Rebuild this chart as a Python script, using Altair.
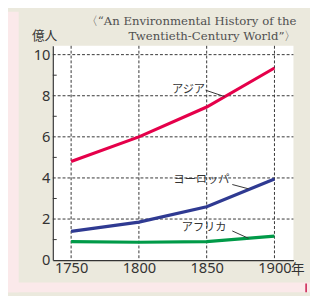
import altair as alt
import pandas as pd

years = [1750, 1800, 1850, 1900]
asia = [4.8, 6.0, 7.45, 9.35]
europe = [1.4, 1.85, 2.6, 3.95]
africa = [0.9, 0.87, 0.9, 1.17]
series_names = ["アジア", "ヨーロッパ", "アフリカ"]
series_colors = ["#e5004a", "#2f3a92", "#009a48"]

label_x = [1848.8, 1866.8, 1864.6]
label_y = [8.29, 3.89, 1.56]
leader_x = [1849.2, 1868.9, 1868.9]
leader_y = [8.27, 3.68, 1.42]
leader_x2 = [1863.2, 1880.9, 1880.9]
leader_y2 = [7.96, 3.47, 1.06]

y_ticks = [0, 2, 4, 6, 8, 10]
y_grid = [2, 4, 6, 8, 10]
y_minor = [1, 3, 5, 7, 9]
x_ticks = [1750, 1800, 1850, 1900]
title_lines = ["〈“An Environmental History of the", "Twentieth-Century World”〉"]
unit_label = "億人"
year_suffix = "年"

W, H = 247, 220

rows = []
for name, vals in zip(series_names, [asia, europe, africa]):
    for yr, v in zip(years, vals):
        rows.append({"year": yr, "value": v, "series": name})
df = pd.DataFrame(rows)

xs = alt.Scale(domain=[1736.5, 1914], nice=False, zero=False)
ys = alt.Scale(domain=[0, 10.43], nice=False)

pink = "#fbe9ea"
strip_left = alt.Chart(pd.DataFrame({"a": [0]})).mark_rect(color=pink).encode(
    x=alt.value(-46), x2=alt.value(-35), y=alt.value(-35), y2=alt.value(253))
strip_bottom = alt.Chart(pd.DataFrame({"a": [0]})).mark_rect(color=pink).encode(
    x=alt.value(-46), x2=alt.value(264), y=alt.value(243), y2=alt.value(253))
red_mark = alt.Chart(pd.DataFrame({"a": [0]})).mark_rule(color="#c8174a", strokeWidth=1.5).encode(
    x=alt.value(260), y=alt.value(244), y2=alt.value(253))

hgrid = alt.Chart(pd.DataFrame({"v": y_grid})).mark_rule(
    color="#333333", strokeDash=[3, 2], strokeWidth=1).encode(
    y=alt.Y("v:Q", scale=ys), x=alt.value(0), x2=alt.value(W))
vgrid = alt.Chart(pd.DataFrame({"yr": x_ticks})).mark_rule(
    color="#333333", strokeDash=[3, 2], strokeWidth=1).encode(
    x=alt.X("yr:Q", scale=xs), y=alt.value(0), y2=alt.value(H))
minor = alt.Chart(pd.DataFrame({"v": y_minor})).mark_rule(
    color="#333333", strokeWidth=1).encode(
    y=alt.Y("v:Q", scale=ys), x=alt.value(0), x2=alt.value(4))

axes = alt.Chart(pd.DataFrame({"yr": [1750], "v": [0]})).mark_point(opacity=0).encode(
    x=alt.X("yr:Q", scale=xs, axis=alt.Axis(
        values=x_ticks, title=None, grid=False, ticks=False, domainColor="#333333",
        domainWidth=1.2, labelFontSize=15, labelColor="#333333", labelFont="Noto Sans",
        labelPadding=1, format="d", labelFlush=False)),
    y=alt.Y("v:Q", scale=ys, axis=alt.Axis(
        values=y_ticks, title=None, grid=False, ticks=False, domainColor="#333333",
        domainWidth=1.2, labelFontSize=15, labelColor="#333333", labelFont="Noto Sans",
        labelPadding=3)),
)

lines = alt.Chart(df).mark_line(strokeWidth=3.2).encode(
    x=alt.X("year:Q", scale=xs),
    y=alt.Y("value:Q", scale=ys),
    color=alt.Color("series:N", scale=alt.Scale(domain=series_names, range=series_colors), legend=None),
    detail="series:N",
)

lab_df = pd.DataFrame({"x": label_x, "y": label_y, "t": series_names,
                       "lx": leader_x, "ly": leader_y, "lx2": leader_x2, "ly2": leader_y2})
labels = alt.Chart(lab_df).mark_text(
    align="right", baseline="middle", fontSize=11.5, font="Noto Sans CJK JP", color="#333333").encode(
    x=alt.X("x:Q", scale=xs), y=alt.Y("y:Q", scale=ys), text="t:N")
leaders = alt.Chart(lab_df).mark_rule(color="#333333", strokeWidth=1).encode(
    x=alt.X("lx:Q", scale=xs), y=alt.Y("ly:Q", scale=ys),
    x2="lx2:Q", y2="ly2:Q")

unit = alt.Chart(pd.DataFrame({"t": [unit_label]})).mark_text(
    align="center", baseline="middle", fontSize=13, font="Noto Sans CJK JP", color="#333333").encode(
    x=alt.value(-8.5), y=alt.value(-10), text="t:N")
suffix = alt.Chart(pd.DataFrame({"t": [year_suffix], "yr": [1900]})).mark_text(
    align="left", baseline="middle", fontSize=14, font="Noto Sans CJK JP", color="#333333", dx=17).encode(
    x=alt.X("yr:Q", scale=xs), y=alt.value(H + 10), text="t:N")
title = alt.Chart(pd.DataFrame({"t": title_lines, "py": [-25, -10]})).mark_text(
    align="right", baseline="middle", fontSize=12, font="DejaVu Serif", color="#505050").encode(
    x=alt.value(250), y=alt.Y("py:Q", scale=None), text="t:N")

chart = alt.layer(
    strip_left, strip_bottom, red_mark, hgrid, vgrid, axes, minor, lines, leaders, labels, unit, suffix, title
).properties(
    width=W, height=H,
    padding={"left": 46, "top": 35, "right": 17, "bottom": 33},
    autosize=alt.AutoSizeParams(type="none"),
    background="#ebe9dd",
).configure_view(fill="white", stroke=None)

chart.save("out.html", embed_options={"renderer": "svg", "actions": False})
